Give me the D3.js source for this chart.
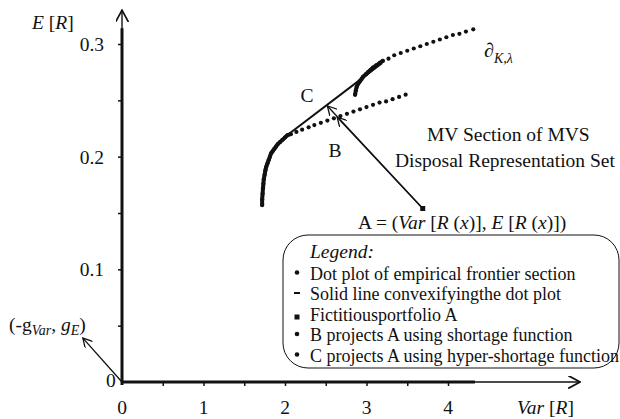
<!DOCTYPE html>
<html>
<head>
<meta charset="utf-8">
<script src="https://cdn.jsdelivr.net/npm/d3@7"></script>
</head>
<body style="margin:0">
<script>
// data: [Var, E]
// dense stretches of the dot plot (look like a solid thick curve)
var lowDense = [
  [1.72,0.157],[1.72,0.162],[1.725,0.167],[1.73,0.172],[1.735,0.176],[1.74,0.180],
  [1.75,0.184],[1.76,0.188],[1.77,0.191],[1.785,0.194],[1.80,0.197],[1.815,0.200],
  [1.83,0.203],[1.85,0.205],[1.87,0.207],[1.89,0.209],[1.91,0.211],[1.94,0.213],
  [1.97,0.215],[2.00,0.217],[2.03,0.219],[2.07,0.220]
];
var lowSparse = [
  [2.14,0.222],[2.21,0.224],[2.29,0.226],[2.36,0.228],[2.44,0.230],[2.52,0.232],
  [2.60,0.234],[2.68,0.236],[2.76,0.238],[2.84,0.240],[2.92,0.242],[3.00,0.244],
  [3.08,0.246],[3.16,0.248],[3.24,0.249],[3.32,0.251],[3.40,0.253],[3.48,0.255]
];
var highDense = [
  [2.86,0.255],[2.87,0.259],[2.88,0.262],[2.90,0.265],[2.92,0.267],[2.94,0.269],
  [2.96,0.271],[2.99,0.273],[3.02,0.275],[3.05,0.277],[3.08,0.279],[3.12,0.281],
  [3.16,0.283],[3.20,0.285]
];
var highSparse = [
  [3.27,0.287],[3.34,0.290],[3.42,0.292],[3.50,0.294],[3.58,0.296],[3.66,0.298],
  [3.74,0.300],[3.82,0.302],[3.90,0.304],[3.98,0.306],[4.06,0.308],[4.14,0.309],
  [4.22,0.311],[4.31,0.313]
];
var convexLine = [[1.99,0.217],[3.19,0.283]];
var pointA = [3.69,0.154];
var pointB = [2.64,0.235];
var pointC = [2.52,0.245];
var gradient = [-0.48,0.039];
var xTicks = [0,1,2,3,4];
var yTicks = [0.1,0.2,0.3];
var legendItems = [
  {mark: 'dot', label: 'Dot plot of empirical frontier section'},
  {mark: 'dash', label: 'Solid line convexifyingthe dot plot'},
  {mark: 'square', label: 'Fictitiousportfolio A'},
  {mark: 'dot', label: 'B projects A using shortage function'},
  {mark: 'dot', label: 'C projects A using hyper-shortage function'}
];

var width = 620, height = 419;
var serif = "'Liberation Serif'";

var svg = d3.select('body').append('svg')
  .attr('width', width).attr('height', height);

var x = d3.scaleLinear().domain([0, 4]).range([122, 448]);
var y = d3.scaleLinear().domain([0, 0.3]).range([382, 44]);

// arrow markers
var defs = svg.append('defs');
defs.append('marker').attr('id', 'open').attr('viewBox', '0 0 10 10')
  .attr('refX', 9).attr('refY', 5).attr('markerWidth', 10).attr('markerHeight', 10)
  .attr('markerUnits', 'userSpaceOnUse').attr('orient', 'auto')
  .append('path').attr('d', 'M0,0 L9,5 L0,10').attr('fill', 'none')
  .attr('stroke', '#111').attr('stroke-width', 1.3);
defs.append('marker').attr('id', 'big').attr('viewBox', '0 0 12 12')
  .attr('refX', 11).attr('refY', 6).attr('markerWidth', 13).attr('markerHeight', 13)
  .attr('markerUnits', 'userSpaceOnUse').attr('orient', 'auto')
  .append('path').attr('d', 'M0,0 L11,6 L0,12').attr('fill', 'none')
  .attr('stroke', '#111').attr('stroke-width', 1.6);

// axes: thick part plus thin arrow part
svg.append('line').attr('x1', x(0)).attr('x2', x(4.33)).attr('y1', y(0)).attr('y2', y(0))
  .attr('stroke', '#111').attr('stroke-width', 3);
svg.append('line').attr('x1', x(4.3)).attr('x2', x(5.62)).attr('y1', y(0)).attr('y2', y(0))
  .attr('stroke', '#111').attr('stroke-width', 1.4).attr('marker-end', 'url(#big)');
svg.append('line').attr('x1', x(0)).attr('x2', x(0)).attr('y1', y(0) + 3).attr('y2', y(0.314))
  .attr('stroke', '#111').attr('stroke-width', 3);
svg.append('line').attr('x1', x(0)).attr('x2', x(0)).attr('y1', y(0.31)).attr('y2', y(0.33))
  .attr('stroke', '#111').attr('stroke-width', 1.4).attr('marker-end', 'url(#big)');

// ticks
var xAxis = d3.axisBottom(x).tickValues(d3.range(0.5, 4.01, 0.5)).tickSize(4).tickFormat('');
svg.append('g').attr('transform', 'translate(0,' + y(0) + ')').call(xAxis)
  .call(function (g) { g.select('.domain').remove(); })
  .selectAll('line').attr('stroke', '#111').attr('stroke-width', 1.5);
var yAxis = d3.axisLeft(y).tickValues(d3.range(0.05, 0.301, 0.05)).tickSize(4).tickFormat('');
svg.append('g').attr('transform', 'translate(' + x(0) + ',0)').call(yAxis)
  .call(function (g) { g.select('.domain').remove(); })
  .selectAll('line').attr('stroke', '#111').attr('stroke-width', 1.5);

var fs = '19.5px';
function txt(sel) {
  return sel.attr('fill', '#111').style('font-family', serif);
}
txt(svg.selectAll('.xlab').data(xTicks).enter().append('text'))
  .attr('x', function (d) { return x(d); }).attr('y', 414)
  .attr('text-anchor', 'middle').style('font-size', fs)
  .text(function (d) { return d; });
txt(svg.selectAll('.ylab').data(yTicks).enter().append('text'))
  .attr('x', 104).attr('y', function (d) { return y(d) + 7; })
  .attr('text-anchor', 'end').style('font-size', fs)
  .text(function (d) { return d; });
txt(svg.append('text')).attr('x', 106).attr('y', y(0) + 5).style('font-size', fs).text('0');

// rich text helper: parts are [text, italic, shift]
function rich(px, py, size, parts, anchor) {
  var t = txt(svg.append('text')).attr('x', px).attr('y', py)
    .attr('text-anchor', anchor || 'start').style('font-size', size);
  var shift = 0;
  parts.forEach(function (p) {
    var s = t.append('tspan').text(p[0]);
    if (p[1]) s.style('font-style', 'italic');
    var sh = p[2] || 0;
    if (sh !== shift) { s.attr('dy', sh - shift); shift = sh; }
    if (sh) s.style('font-size', '14px');
  });
  return t;
}

// axis titles
rich(32, 29, fs, [['E', 1], [' ['], ['R', 1], [']']]);
rich(517, 414, fs, [['Var', 1], [' ['], ['R', 1], [']']]);

// convexifying line
var line = d3.line().x(function (d) { return x(d[0]); }).y(function (d) { return y(d[1]); });
svg.append('path').datum(convexLine).attr('d', line)
  .attr('stroke', '#111').attr('stroke-width', 2).attr('fill', 'none');

// dense parts of the dot plot
[lowDense, highDense].forEach(function (pts) {
  svg.append('path').datum(pts).attr('d', line.curve(d3.curveCatmullRom))
    .attr('stroke', '#111').attr('stroke-width', 4).attr('stroke-linecap', 'round').attr('fill', 'none');
});
line.curve(d3.curveLinear);

// dot plots
svg.selectAll('.dot').data(lowDense.concat(lowSparse, highDense, highSparse)).enter().append('circle')
  .attr('cx', function (d) { return x(d[0]); })
  .attr('cy', function (d) { return y(d[1]); })
  .attr('r', 2.1).attr('fill', '#111');

// projection arrows from A
svg.append('line').attr('x1', x(pointA[0])).attr('y1', y(pointA[1]))
  .attr('x2', x(pointC[0])).attr('y2', y(pointC[1]))
  .attr('stroke', '#111').attr('stroke-width', 1.3).attr('marker-end', 'url(#open)');
svg.append('line').attr('x1', x(pointA[0])).attr('y1', y(pointA[1]))
  .attr('x2', x(pointB[0])).attr('y2', y(pointB[1]))
  .attr('stroke', '#111').attr('stroke-width', 1.3).attr('marker-end', 'url(#open)');
svg.append('rect').attr('x', x(pointA[0]) - 2.5).attr('y', y(pointA[1]) - 2.5)
  .attr('width', 5).attr('height', 5).attr('fill', '#111');

// gradient arrow
svg.append('line').attr('x1', x(0)).attr('y1', y(0))
  .attr('x2', x(gradient[0])).attr('y2', y(gradient[1]))
  .attr('stroke', '#111').attr('stroke-width', 1.3).attr('marker-end', 'url(#open)');
rich(9, 331, fs, [['(-g'], ['Var', 1, 4], [', ', 0, 0], ['g', 1], ['E', 1, 4], [')', 0, 0]]);

// labels
rich(307, 102, fs, [['C']], 'middle');
rich(335, 157, fs, [['B']], 'middle');
rich(484, 57, '20px', [['\u2202'], ['K,\u03bb', 1, 6]]);
rich(427, 141, fs, [['MV Section of MVS']]);
rich(395, 167, fs, [['Disposal Representation Set']]);
rich(358, 229, fs, [['A = ('], ['Var', 1], [' ['], ['R', 1], [' ('], ['x', 1], [')], '],
  ['E', 1], [' ['], ['R', 1], [' ('], ['x', 1], [')])']]);

// legend box
var lg = svg.append('g');
lg.append('rect').attr('x', 283).attr('y', 235).attr('width', 336).attr('height', 133)
  .attr('rx', 25).attr('ry', 25).attr('fill', '#fff').attr('stroke', '#111').attr('stroke-width', 1);
txt(lg.append('text')).attr('x', 310).attr('y', 258).style('font-size', fs)
  .style('font-style', 'italic').text('Legend:');
var rows = lg.selectAll('.row').data(legendItems).enter().append('g')
  .attr('transform', function (d, i) { return 'translate(0,' + (273.5 + i * 20.5) + ')'; });
txt(rows.append('text')).attr('x', 310).attr('y', 6).style('font-size', '18px')
  .text(function (d) { return d.label; });
rows.each(function (d) {
  var g = d3.select(this);
  if (d.mark === 'dot') g.append('circle').attr('cx', 297).attr('cy', -1).attr('r', 2.3).attr('fill', '#111');
  else if (d.mark === 'dash') g.append('line').attr('x1', 294).attr('x2', 300).attr('y1', -1).attr('y2', -1)
    .attr('stroke', '#111').attr('stroke-width', 2);
  else g.append('rect').attr('x', 294.5).attr('y', 0).attr('width', 5).attr('height', 5).attr('fill', '#111');
});
</script>
</body>
</html>
